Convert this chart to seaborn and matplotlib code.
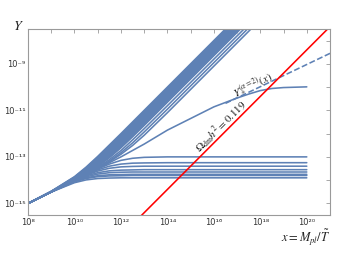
import pandas as pd
import matplotlib
matplotlib.use("Agg")
import matplotlib.pyplot as plt
import seaborn as sns

# all values are log10 of x and log10 of Y
lx_steep = [8, 9, 10, 10.5, 11, 11.5, 12, 12.5, 13, 14, 18.5]
lx_flat = [8, 9, 10, 10.5, 11, 11.5, 12, 12.5, 13, 14, 20]
lx_mid = [8, 9, 10, 11, 12, 13, 14, 15, 16, 17, 17.5, 18, 18.5, 19, 20]

# curves that keep rising and leave through the top of the frame
steep_curves = [
    [-15.00, -14.48, -13.85, -13.44, -12.98, -12.49, -12.00, -11.50, -11.00, -10.00, -5.50],
    [-15.00, -14.48, -13.87, -13.48, -13.02, -12.54, -12.05, -11.55, -11.05, -10.05, -5.55],
    [-15.00, -14.49, -13.89, -13.51, -13.07, -12.59, -12.10, -11.60, -11.10, -10.10, -5.60],
    [-15.00, -14.49, -13.91, -13.54, -13.11, -12.64, -12.15, -11.65, -11.15, -10.15, -5.65],
    [-15.00, -14.49, -13.93, -13.57, -13.15, -12.68, -12.19, -11.70, -11.20, -10.20, -5.70],
    [-15.00, -14.49, -13.94, -13.60, -13.19, -12.73, -12.24, -11.75, -11.25, -10.25, -5.75],
    [-15.00, -14.50, -13.95, -13.62, -13.23, -12.77, -12.29, -11.80, -11.30, -10.30, -5.80],
    [-15.00, -14.50, -13.96, -13.64, -13.26, -12.82, -12.34, -11.85, -11.35, -10.35, -5.85],
    [-15.00, -14.50, -13.97, -13.66, -13.29, -12.86, -12.39, -11.90, -11.40, -10.40, -5.90],
    [-15.00, -14.50, -13.97, -13.68, -13.32, -12.90, -12.43, -11.94, -11.45, -10.45, -5.95],
    [-15.00, -14.50, -13.98, -13.69, -13.35, -12.94, -12.48, -11.99, -11.50, -10.50, -6.00],
    [-15.00, -14.50, -13.98, -13.70, -13.37, -12.98, -12.52, -12.04, -11.55, -10.55, -6.05],
    [-15.00, -14.50, -13.99, -13.71, -13.39, -13.01, -12.57, -12.09, -11.60, -10.60, -6.10],
    [-15.00, -14.50, -13.99, -13.72, -13.41, -13.04, -12.61, -12.14, -11.65, -10.65, -6.15],
    [-15.00, -14.50, -14.00, -13.73, -13.45, -13.12, -12.73, -12.27, -11.79, -10.80, -6.30],
    [-15.00, -14.50, -14.00, -13.74, -13.47, -13.18, -12.82, -12.40, -11.93, -10.95, -6.45],
    [-15.00, -14.50, -14.00, -13.75, -13.49, -13.21, -12.89, -12.51, -12.07, -11.10, -6.60],
]

# curves that level off before x = 10^20
flat_curves = [
    [-15.00, -14.51, -14.11, -13.99, -13.93, -13.91, -13.90, -13.90, -13.90, -13.90, -13.90],
    [-15.00, -14.51, -14.07, -13.93, -13.85, -13.82, -13.81, -13.80, -13.80, -13.80, -13.80],
    [-15.00, -14.51, -14.06, -13.90, -13.81, -13.77, -13.76, -13.75, -13.75, -13.75, -13.75],
    [-15.00, -14.50, -14.04, -13.86, -13.74, -13.68, -13.66, -13.65, -13.65, -13.65, -13.65],
    [-15.00, -14.50, -14.03, -13.82, -13.68, -13.60, -13.57, -13.56, -13.55, -13.55, -13.55],
    [-15.00, -14.50, -14.01, -13.79, -13.61, -13.49, -13.43, -13.41, -13.40, -13.40, -13.40],
    [-15.00, -14.50, -14.01, -13.77, -13.56, -13.40, -13.31, -13.27, -13.26, -13.25, -13.25],
    [-15.00, -14.50, -14.00, -13.76, -13.52, -13.31, -13.15, -13.06, -13.02, -13.00, -13.00],
]

# the curve that bends over near 10^-10
mid_curve = [-15.00, -14.50, -14.00, -13.50, -13.00, -12.45, -11.85, -11.35, -10.85,
             -10.47, -10.30, -10.15, -10.06, -10.02, -9.99]

# dashed Y_*^(alpha=2)
lx_dash = [16.5, 21.0]
ly_dash = [-10.70, -8.55]

# Omega_dm h^2 = 0.119 line
lx_red = [12.0, 21.5]
ly_red = [-16.4, -6.9]

x_ticks = list(range(8, 22))
x_labels = ["10⁸", "", "10¹⁰", "", "10¹²", "", "10¹⁴", "", "10¹⁶", "", "10¹⁸", "", "10²⁰", ""]
y_ticks = list(range(-15, -7))
y_labels = ["10⁻¹⁵", "", "10⁻¹³", "", "10⁻¹¹", "", "10⁻⁹", ""]

blue = "#5E81B5"
frame = "#9a9a9a"

sns.set_style("white")
plt.rcParams["mathtext.fontset"] = "stix"

fig = plt.figure(figsize=(3.42, 2.56), dpi=100)
ax = fig.add_axes([0.0819, 0.160, 0.8831, 0.727])

rows = []
for i, ys in enumerate(steep_curves):
    rows += [("s%d" % i, x, y) for x, y in zip(lx_steep, ys)]
for i, ys in enumerate(flat_curves):
    rows += [("f%d" % i, x, y) for x, y in zip(lx_flat, ys)]
rows += [("mid", x, y) for x, y in zip(lx_mid, mid_curve)]
df = pd.DataFrame(rows, columns=["curve", "lx", "ly"])

sns.lineplot(data=df, x="lx", y="ly", units="curve", estimator=None,
             color=blue, lw=1.15, sort=False, ax=ax)
sns.lineplot(x=lx_dash, y=ly_dash, color=blue, lw=1.15, dashes=(4, 2.2),
             linestyle="--", ax=ax)
sns.lineplot(x=lx_red, y=ly_red, color="#ff0000", lw=1.15, ax=ax)

ax.set_xlim(8, 21)
ax.set_ylim(-15.5, -7.5)
ax.set_xticks(x_ticks)
ax.set_xticklabels(x_labels)
ax.set_yticks(y_ticks)
ax.set_yticklabels(y_labels)
ax.set_xlabel("")
ax.set_ylabel("")
ax.tick_params(which="both", direction="in", length=3, width=0.6, color=frame,
               labelsize=6, labelcolor="#333333", top=True, right=True, pad=2)
for s in ax.spines.values():
    s.set_color(frame)
    s.set_linewidth(0.8)

ax.text(16.32, -11.70, r"$\Omega_{\rm dm}h^2 = 0.119$", rotation=45,
        rotation_mode="anchor", ha="center", va="center", fontsize=8, color="#222222")
ax.text(17.66, -9.89, r"$Y_*^{(\alpha=2)}(x)$", rotation=26,
        rotation_mode="anchor", ha="center", va="center", fontsize=8, color="#222222")

fig.text(0.038, 0.87, r"$Y$", fontsize=10, color="#222222", ha="left", va="bottom")
fig.text(0.965, 0.058, r"$x = M_{pl}/\tilde{T}$", fontsize=9, color="#222222",
         ha="right", va="baseline")

fig.savefig("out.png", dpi=100)
